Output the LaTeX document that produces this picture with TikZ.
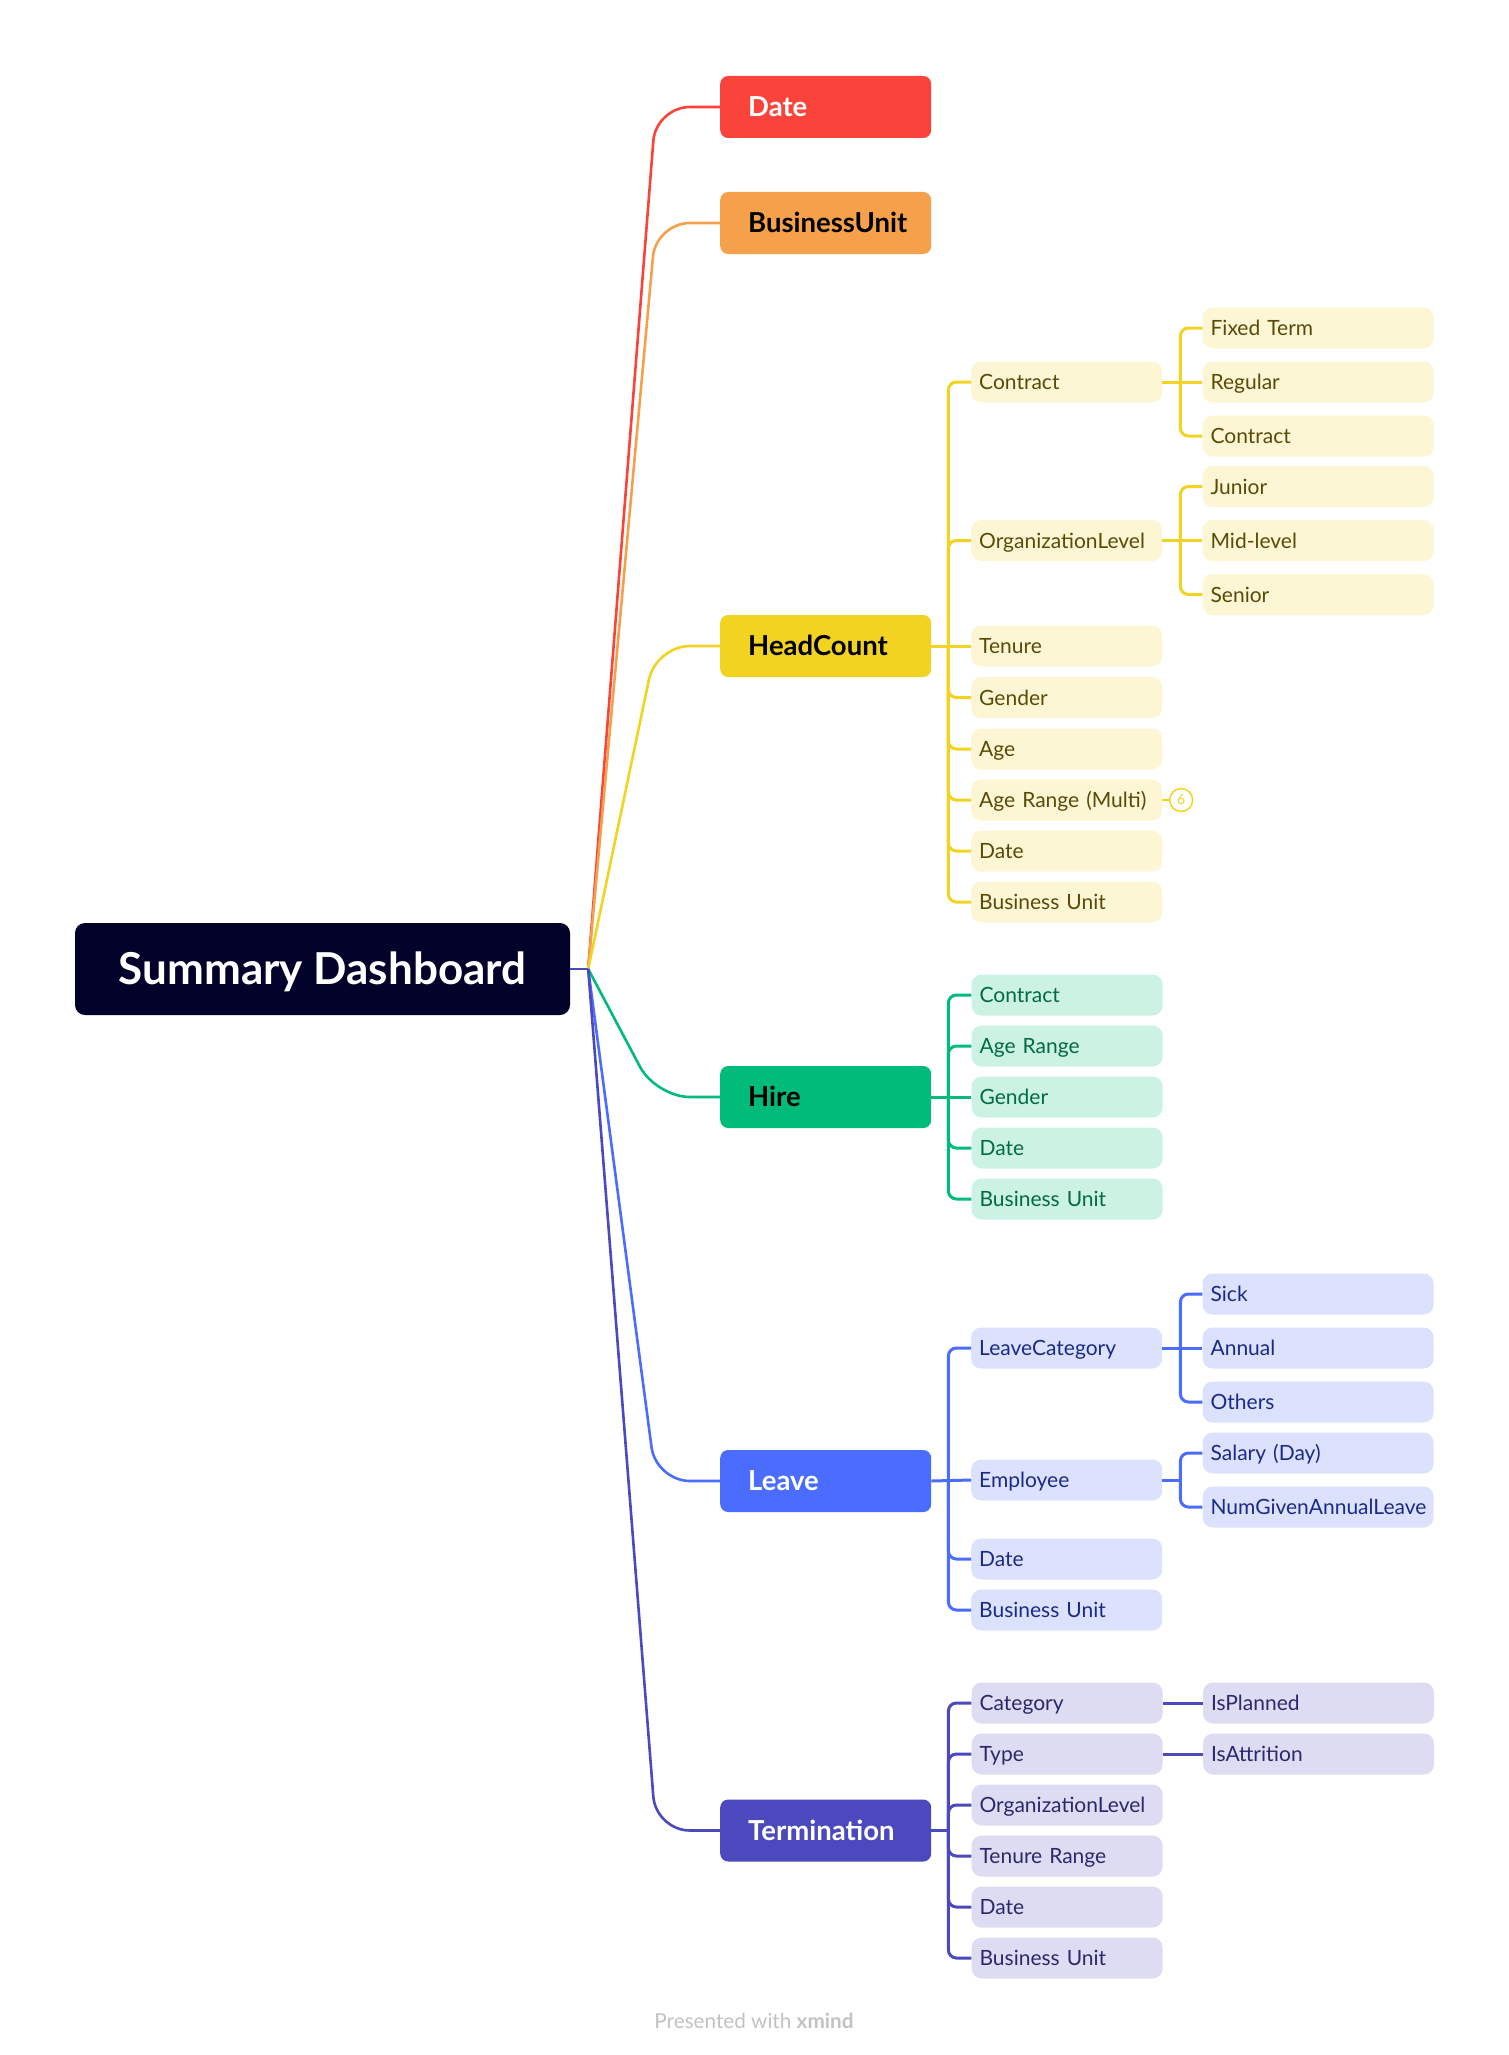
\documentclass[tikz,border=0pt]{standalone}
\usepackage{fontspec}
\setmainfont{Lato}
\usetikzlibrary{positioning,matrix}

\definecolor{rootc}{HTML}{02022B}
\definecolor{datec}{HTML}{FA443B}
\definecolor{buc}{HTML}{F5A04A}
\definecolor{hcc}{HTML}{F2D322}
\definecolor{hirec}{HTML}{00BB7A}
\definecolor{leavec}{HTML}{4A6CFF}
\definecolor{termc}{HTML}{4C49BE}
\definecolor{hcl}{HTML}{FDF6D4}
\definecolor{hct}{HTML}{5A4A08}
\definecolor{hirel}{HTML}{CCF2E3}
\definecolor{hiret}{HTML}{006B45}
\definecolor{leavel}{HTML}{DCE2FD}
\definecolor{leavet}{HTML}{1B2A85}
\definecolor{terml}{HTML}{DDDCF2}
\definecolor{termt}{HTML}{2A296B}

\begin{document}
\begin{tikzpicture}[x=1pt,y=-1pt]
  % Settings
  \tikzset{
    root/.style={fill=rootc, text=white, rounded corners=10pt, minimum width=495pt, minimum height=92pt, inner ysep=0pt, text height=40pt, text depth=9pt, font=\fontsize{44}{50}\selectfont\bfseries},
    topic/.style={rounded corners=8pt, text width=155pt, inner xsep=28pt, inner ysep=0pt, minimum height=62pt, text height=24.5pt, text depth=5pt, align=left, anchor=west, font=\fontsize{27.5}{32}\selectfont\bfseries},
    sub/.style={rounded corners=10pt, text width=175pt, inner xsep=8pt, inner ysep=0pt, minimum height=41pt, text height=19pt, text depth=4pt, align=left, font=\fontsize{21}{24}\selectfont},
    leaf/.style={sub, text width=215pt},
    kids/.style={matrix of nodes, inner sep=0pt, row sep=10pt, nodes={sub, fill=#1l, text=#1t}},
    leaves/.style={matrix of nodes, inner sep=0pt, row sep=13pt, nodes={leaf, fill=#1l, text=#1t}},
    badge/.style={draw=hcc, line width=1.5pt, circle, inner sep=0pt, minimum size=23pt, text=hcc, font=\fontsize{14}{16}\selectfont},
    credit/.style={text=black!24, font=\fontsize{20.7}{24}\selectfont},
    branch/.style={draw=#1, line width=2.6pt, rounded corners=34pt},
    spine/.style={draw=#1, line width=3pt, rounded corners=8pt},
  }
  \useasboundingbox[fill=white] (0,0) rectangle (1509,2055);

  \node[root] (dash) at (322.5,969) {Summary Dashboard};
  \coordinate (hub) at ([xshift=18pt]dash.east);

  \node[topic, fill=datec, text=white] (date) at (720,107) {Date};
  \node[topic, fill=buc] (bunit) at (720,223) {BusinessUnit};
  \node[topic, fill=hcc] (headcount) at (720,646) {HeadCount};
  \node[topic, fill=hirec] (hire) at (720,1097) {Hire};
  \node[topic, fill=leavec, text=white] (leave) at (720,1481) {Leave};
  \node[topic, fill=termc, text=white] (term) at (720,1830.5) {Termination};

  % Arrows
  \foreach \t/\c in {date/datec, bunit/buc, headcount/hcc, hire/hirec, leave/leavec, term/termc}
    {\draw[branch=\c] (hub) -- ([xshift=-64pt]\t.west) -- (\t.west);}
  \draw[branch=termc] (dash.east) -- (hub);

  % HeadCount attributes
  \foreach \n/\t/\y in {1/Contract/382, 2/OrganizationLevel/540.5, 3/Tenure/646, 4/Age Range (Multi)/800,
                        5/Gender/697.5, 6/Age/749, 7/Date/851, 8/Business Unit/902}
    {\node[sub, fill=hcl, text=hct, anchor=west] (hc\n) at (971,\y) {\t};}
  \coordinate (hcs) at ([xshift=17pt]headcount.east);
  \draw[spine=hcc] (headcount.east) -- (hc3.west);
  \foreach \n in {1,2,4,5,6,7,8} {\draw[spine=hcc] (hcs) |- (hc\n.west);}

  \node[badge, right=6.5pt of hc4] (multi) {6};
  \draw[hcc, line width=2pt] (hc4.east) -- (multi.west);

  \matrix (m1) [leaves=hc, right=40pt of hc1]{Fixed Term\\Regular\\Contract\\};
  \coordinate (m1s) at ([xshift=18pt]hc1.east);
  \draw[spine=hcc] (hc1.east) -- (m1-2-1.west);
  \foreach \i in {1,3} {\draw[spine=hcc] (m1s) |- (m1-\i-1.west);}

  \matrix (m2) [leaves=hc, right=40pt of hc2]{Junior\\Mid-level\\Senior\\};
  \coordinate (m2s) at ([xshift=18pt]hc2.east);
  \draw[spine=hcc] (hc2.east) -- (m2-2-1.west);
  \foreach \i in {1,3} {\draw[spine=hcc] (m2s) |- (m2-\i-1.west);}

  % Hire attributes
  \matrix (m3) [kids=hire, right=40pt of hire]{Contract\\Age Range\\Gender\\Date\\Business Unit\\};
  \coordinate (hires) at ([xshift=17pt]hire.east);
  \draw[spine=hirec] (hire.east) -- (m3-3-1.west);
  \foreach \i in {1,2,4,5} {\draw[spine=hirec] (hires) |- (m3-\i-1.west);}

  % Leave attributes
  \foreach \n/\t/\y in {1/LeaveCategory/1348, 2/Employee/1480, 3/Date/1559, 4/Business Unit/1610}
    {\node[sub, fill=leavel, text=leavet, anchor=west] (lv\n) at (971,\y) {\t};}
  \coordinate (lvs) at ([xshift=17pt]leave.east);
  \draw[spine=leavec] (leave.east) -- (lv2.west);
  \foreach \n in {1,3,4} {\draw[spine=leavec] (lvs) |- (lv\n.west);}

  \matrix (m4) [leaves=leave, right=40pt of lv1]{Sick\\Annual\\Others\\};
  \coordinate (m4s) at ([xshift=18pt]lv1.east);
  \draw[spine=leavec] (lv1.east) -- (m4-2-1.west);
  \foreach \i in {1,3} {\draw[spine=leavec] (m4s) |- (m4-\i-1.west);}

  \matrix (m5) [leaves=leave, right=40pt of lv2]{Salary (Day)\\NumGivenAnnualLeave\\};
  \coordinate (m5s) at ([xshift=18pt]lv2.east);
  \draw[spine=leavec] (lv2.east) -- (m5s);
  \foreach \i in {1,2} {\draw[spine=leavec] (m5s) |- (m5-\i-1.west);}

  % Termination attributes
  \matrix (m6) [kids=term, right=40pt of term]{Category\\Type\\OrganizationLevel\\Tenure Range\\Date\\Business Unit\\};
  \coordinate (terms) at ([xshift=17pt]term.east);
  \draw[spine=termc] (term.east) -- (terms);
  \foreach \i in {1,...,6} {\draw[spine=termc] (terms) |- (m6-\i-1.west);}

  \node[leaf, fill=terml, text=termt, right=40pt of m6-1-1] (planned) {IsPlanned};
  \node[leaf, fill=terml, text=termt, right=40pt of m6-2-1] (attrition) {IsAttrition};
  \draw[spine=termc] (m6-1-1.east) -- (planned.west);
  \draw[spine=termc] (m6-2-1.east) -- (attrition.west);

  \node[credit] (footer) at (754,2021) {Presented with \textbf{xmind}};

\end{tikzpicture}
\end{document}
